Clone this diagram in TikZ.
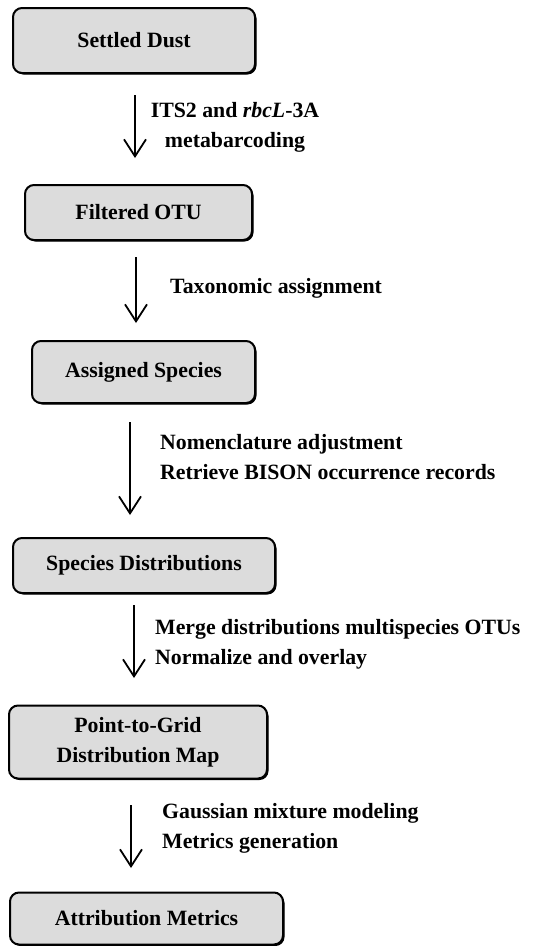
\documentclass[tikz,border=0pt]{standalone}
\usepackage{fontspec}
\setmainfont{Liberation Serif}
\usetikzlibrary{arrows.meta}

\definecolor{boxgray}{HTML}{DCDCDC}
\tikzset{
  stage/.style={draw=black, line width=2pt, fill=boxgray, rounded corners=9pt,
    inner sep=0pt, align=center, font=\fontsize{21.8}{30}\selectfont\bfseries},
  shade/.style={fill=black, rounded corners=9pt},
  flow/.style={line width=1.8pt, -{Straight Barb[length=17pt,width=22pt,line width=1.8pt]}},
  note/.style={inner sep=0pt, align=left, anchor=west,
    font=\fontsize{21.8}{30}\selectfont\bfseries},
}

\begin{document}
\begin{tikzpicture}[x=1pt, y=-1pt]
\useasboundingbox (0,0) rectangle (543,946);

% shadows under the boxes
\foreach \cx/\cy/\w/\h in {134/40.5/242/65, 138.5/212.5/227/55, 143.5/372/223/62,
                           144/565.5/262/55, 138/742/258/73, 146.5/918.5/273/52}{
  \fill[shade] (\cx-\w/2+1.5, \cy-\h/2+1.5) rectangle (\cx+\w/2+1.5, \cy+\h/2+1.5);
}

% stages
\node[stage, minimum width=242pt, minimum height=65pt] (dust)   at (134,40.5)  {Settled Dust};
\node[stage, minimum width=227pt, minimum height=55pt] (otu)    at (138.5,212.5) {Filtered OTU};
\node[stage, minimum width=223pt, minimum height=62pt] (assig)  at (143.5,372) {Assigned Species};
\node[stage, minimum width=262pt, minimum height=55pt] (distr)  at (144,565.5) {Species Distributions};
\node[stage, minimum width=258pt, minimum height=73pt] (grid)   at (138,742) {Point-to-Grid\\Distribution Map};
\node[stage, minimum width=273pt, minimum height=52pt] (metric) at (146.5,918.5) {Attribution Metrics};

% arrow ends
\coordinate (s1) at (135,95);  \coordinate (e1) at (135,158);
\coordinate (s2) at (136,257); \coordinate (e2) at (136,323);
\coordinate (s3) at (130,422); \coordinate (e3) at (130,515);
\coordinate (s4) at (134,605); \coordinate (e4) at (134,678);
\coordinate (s5) at (131,805); \coordinate (e5) at (131,868);

\draw[flow] (s1) -- (e1);
\draw[flow] (s2) -- (e2);
\draw[flow] (s3) -- (e3);
\draw[flow] (s4) -- (e4);
\draw[flow] (s5) -- (e5);

% step descriptions
\node[note, align=center, anchor=center] (l1) at (235,127)
  {ITS2 and \textit{rbcL}-3A\\metabarcoding};
\node[note] (l2) at (170,288) {Taxonomic assignment};
\node[note] (l3) at (160,457) {Nomenclature adjustment\\Retrieve BISON occurrence records};
\node[note] (l4) at (155,644) {Merge distributions multispecies OTUs\\Normalize and overlay};
\node[note] (l5) at (162,828) {Gaussian mixture modeling\\Metrics generation};
\end{tikzpicture}
\end{document}
